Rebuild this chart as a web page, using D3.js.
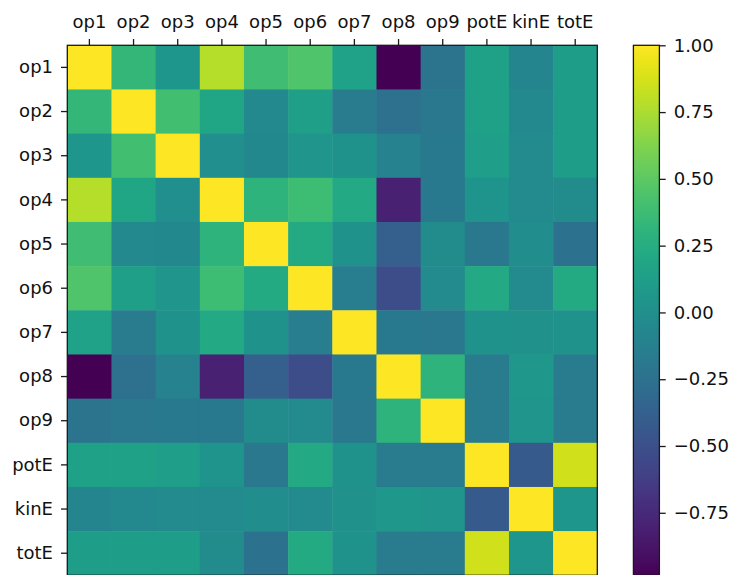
<!DOCTYPE html>
<html>
<head>
<meta charset="utf-8">
<script src="https://cdn.jsdelivr.net/npm/d3@7"></script>
<style>
  html, body { margin: 0; padding: 0; background: #fff; }
  svg { display: block; }
  text { font-family: "DejaVu Sans", sans-serif; }
</style>
</head>
<body>
<svg id="chart" width="732" height="575"></svg>
<script>
// Variable names (rows and columns of the correlation matrix)
const labels = ["op1", "op2", "op3", "op4", "op5", "op6", "op7", "op8", "op9", "potE", "kinE", "totE"];

// Correlation matrix, one row per variable
const rowOp1  = [ 1.00,  0.33,  0.06,  0.78,  0.39,  0.45,  0.16, -0.984, -0.23,  0.14, -0.08,  0.11];
const rowOp2  = [ 0.33,  1.00,  0.40,  0.19, -0.05,  0.13, -0.17, -0.25, -0.19,  0.14, -0.05,  0.11];
const rowOp3  = [ 0.06,  0.40,  1.00,  0.00, -0.06,  0.05,  0.02, -0.11, -0.18,  0.12, -0.04,  0.11];
const rowOp4  = [ 0.78,  0.19,  0.00,  1.00,  0.30,  0.38,  0.21, -0.80, -0.18,  0.04, -0.04, -0.03];
const rowOp5  = [ 0.39, -0.05, -0.06,  0.30,  1.00,  0.22,  0.02, -0.39, -0.03, -0.19, -0.02, -0.24];
const rowOp6  = [ 0.45,  0.13,  0.05,  0.38,  0.22,  1.00, -0.15, -0.52, -0.04,  0.21, -0.04,  0.22];
const rowOp7  = [ 0.16, -0.17,  0.02,  0.21,  0.02, -0.15,  1.00, -0.18, -0.19,  0.02,  0.01,  0.02];
const rowOp8  = [-0.984, -0.25, -0.11, -0.80, -0.39, -0.52, -0.18,  1.00,  0.30, -0.17,  0.07, -0.17];
const rowOp9  = [-0.23, -0.19, -0.18, -0.18, -0.03, -0.04, -0.19,  0.30,  1.00, -0.17,  0.05, -0.17];
const rowPotE = [ 0.14,  0.14,  0.12,  0.04, -0.19,  0.21,  0.02, -0.17, -0.17,  1.00, -0.43,  0.86];
const rowKinE = [-0.08, -0.05, -0.04, -0.04, -0.02, -0.04,  0.01,  0.07,  0.05, -0.43,  1.00,  0.06];
const rowTotE = [ 0.11,  0.11,  0.11, -0.03, -0.24,  0.22,  0.02, -0.17, -0.17,  0.86,  0.06,  1.00];

const matrix = [rowOp1, rowOp2, rowOp3, rowOp4, rowOp5, rowOp6, rowOp7, rowOp8, rowOp9, rowPotE, rowKinE, rowTotE];

// Colorbar tick values
const colorbarTicks = [-0.75, -0.50, -0.25, 0.00, 0.25, 0.50, 0.75, 1.00];

(function draw() {
  const svg = d3.select("#chart");
  const textColor = "#111";
  const lineColor = "#1a1a1a";
  const fontSize = 18;
  const tickLen = 6.3;

  const plotLeft = 67.3, plotRight = 597.3, plotTop = 45.3, plotBottom = 575.3;

  const x = d3.scaleBand().domain(labels).range([plotLeft, plotRight]).padding(0);
  const y = d3.scaleBand().domain(labels).range([plotTop, plotBottom]).padding(0);

  const vmin = d3.min(matrix.flat());
  const vmax = d3.max(matrix.flat());
  const color = d3.scaleSequential(d3.interpolateViridis).domain([vmin, vmax]);

  // Cells
  const cells = [];
  matrix.forEach((row, i) => row.forEach((v, j) => cells.push({ r: labels[i], c: labels[j], v })));

  svg.append("g")
    .selectAll("rect")
    .data(cells)
    .join("rect")
    .attr("x", d => x(d.c))
    .attr("y", d => y(d.r))
    .attr("width", x.bandwidth() + 0.5)
    .attr("height", y.bandwidth() + 0.5)
    .attr("fill", d => color(d.v));

  // Frame around the matrix
  svg.append("rect")
    .attr("x", plotLeft).attr("y", plotTop)
    .attr("width", plotRight - plotLeft).attr("height", plotBottom - plotTop)
    .attr("fill", "none").attr("stroke", lineColor).attr("stroke-width", 1.3);

  // Top axis
  const xAxis = svg.append("g")
    .attr("transform", `translate(0,${plotTop})`)
    .call(d3.axisTop(x).tickSize(tickLen).tickPadding(11));
  xAxis.select(".domain").remove();

  // Left axis
  const yAxis = svg.append("g")
    .attr("transform", `translate(${plotLeft},0)`)
    .call(d3.axisLeft(y).tickSize(tickLen).tickPadding(8));
  yAxis.select(".domain").remove();

  [xAxis, yAxis].forEach(g => {
    g.selectAll("line").attr("stroke", lineColor).attr("stroke-width", 1.3);
    g.selectAll("text").attr("fill", textColor).style("font-size", fontSize + "px")
      .style("font-family", "'DejaVu Sans', sans-serif");
  });

  // Colorbar
  const cbLeft = 633.4, cbWidth = 26;
  const cbScale = d3.scaleLinear().domain([vmin, vmax]).range([plotBottom, plotTop]);

  const defs = svg.append("defs");
  const grad = defs.append("linearGradient")
    .attr("id", "cbGrad")
    .attr("x1", 0).attr("y1", 1).attr("x2", 0).attr("y2", 0);
  d3.range(0, 1.0001, 0.02).forEach(t => {
    grad.append("stop").attr("offset", t).attr("stop-color", d3.interpolateViridis(t));
  });

  svg.append("rect")
    .attr("x", cbLeft).attr("y", plotTop)
    .attr("width", cbWidth).attr("height", plotBottom - plotTop)
    .attr("fill", "url(#cbGrad)")
    .attr("stroke", lineColor).attr("stroke-width", 1.3);

  const cbAxis = svg.append("g")
    .attr("transform", `translate(${cbLeft + cbWidth},0)`)
    .call(d3.axisRight(cbScale).tickValues(colorbarTicks).tickFormat(d3.format(".2f")).tickSize(tickLen).tickPadding(8));
  cbAxis.select(".domain").remove();
  cbAxis.selectAll("line").attr("stroke", lineColor).attr("stroke-width", 1.3);
  cbAxis.selectAll("text").attr("fill", textColor).style("font-size", fontSize + "px")
    .style("font-family", "'DejaVu Sans', sans-serif");
})();
</script>
</body>
</html>
